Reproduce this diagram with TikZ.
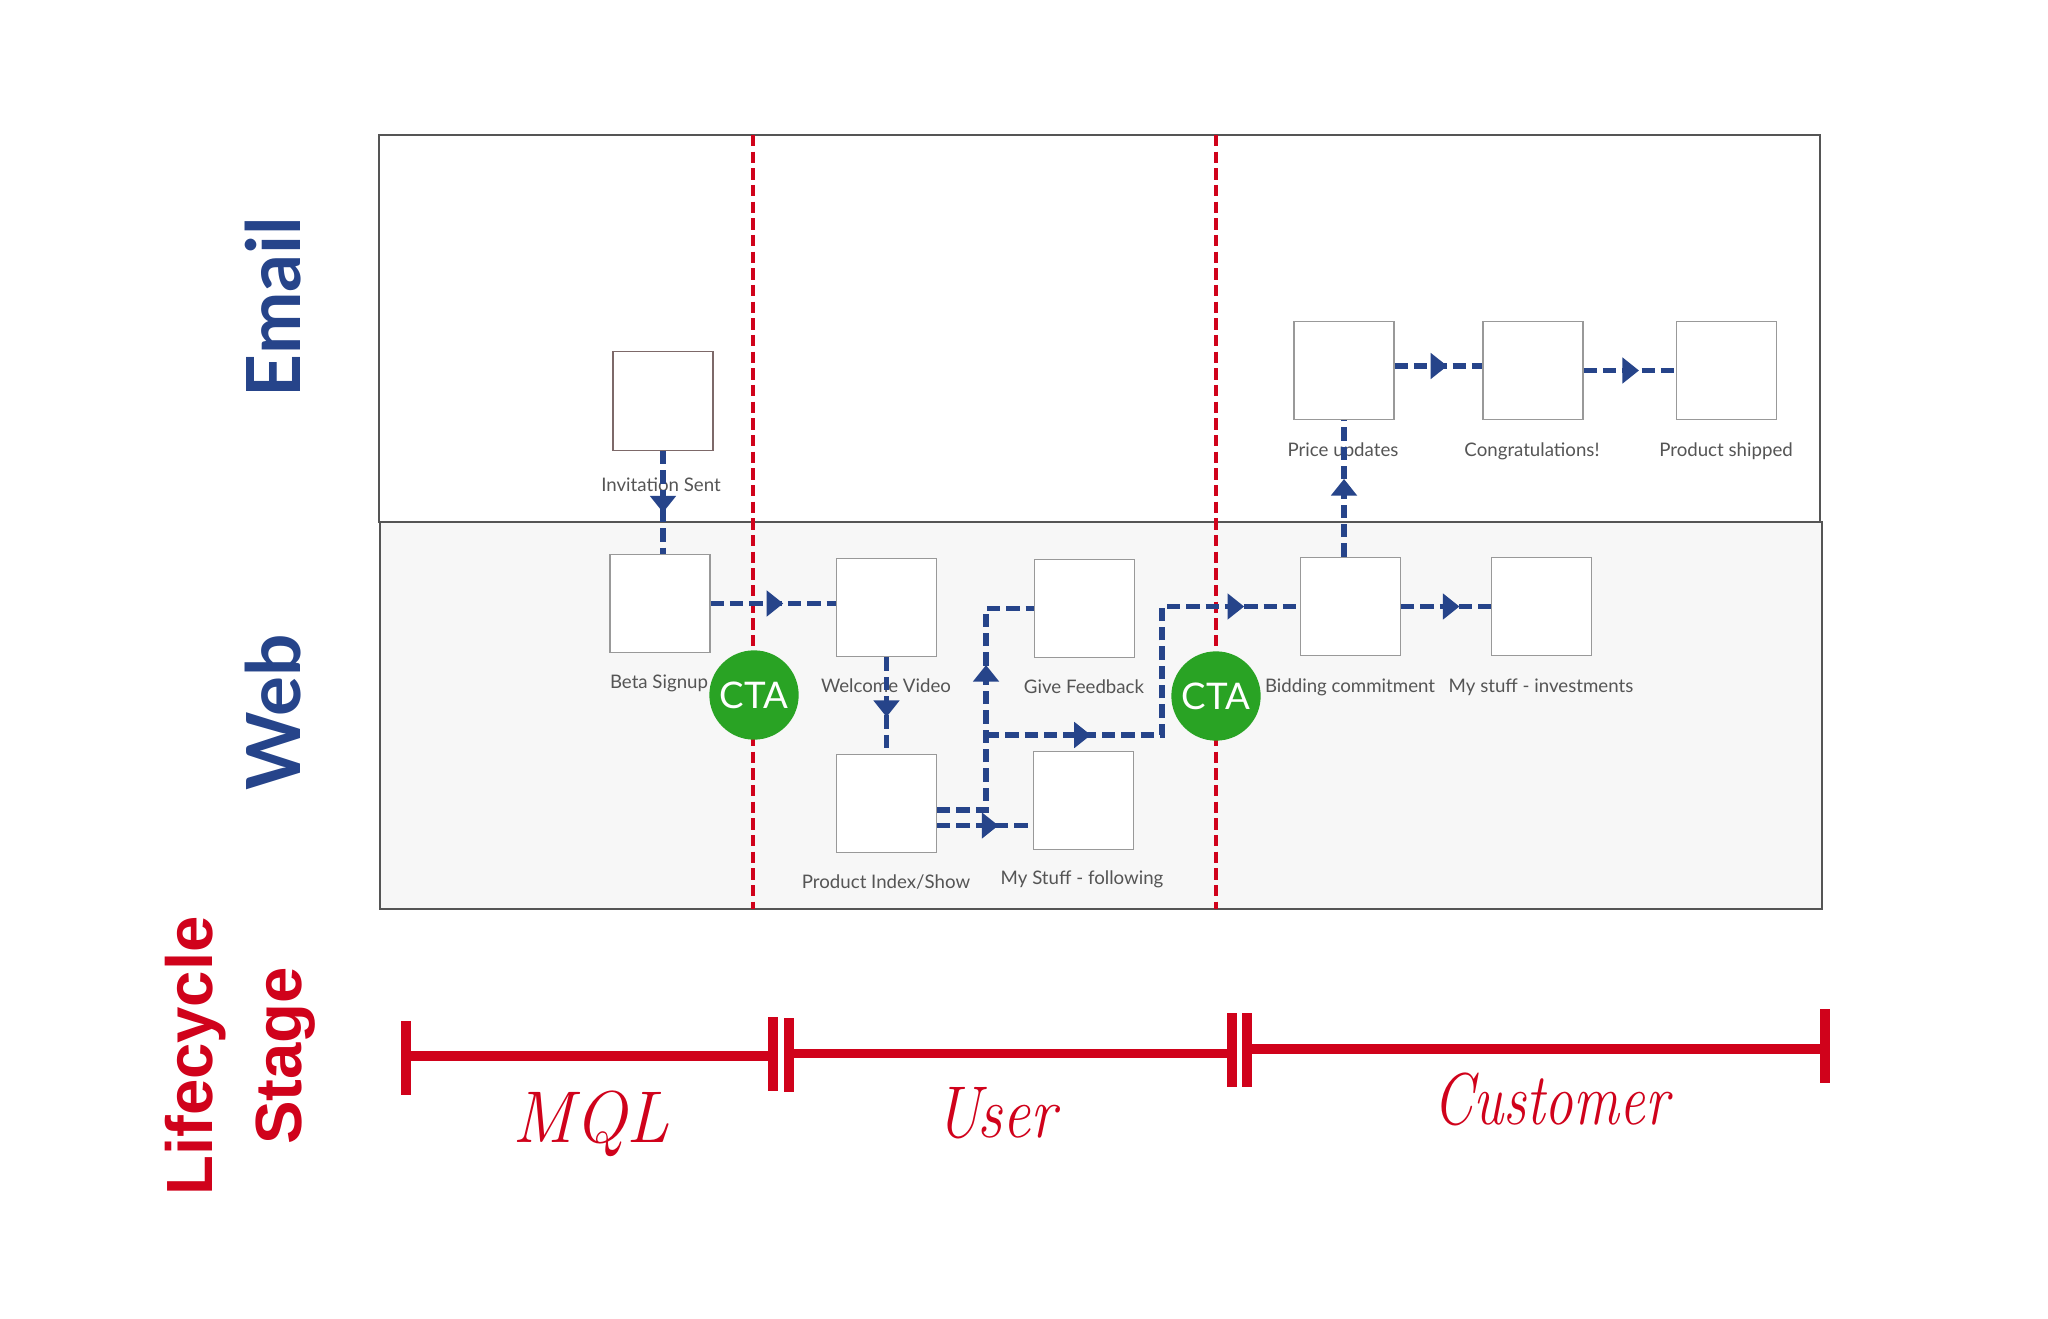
\documentclass[tikz,border=0pt]{standalone}
\usepackage{fontspec}
\usepackage{xcolor}
\usepackage{tikz}
\usetikzlibrary{arrows.meta,decorations.markings,calc}
\newfontfamily\lanefont{Lato}
\newfontfamily\screenfont{Lato}
\newfontfamily\stagefont{Liberation Sans}
\definecolor{flowblue}{RGB}{38,68,138}
\definecolor{stagered}{RGB}{208,2,27}
\definecolor{ctagreen}{RGB}{41,163,36}
\definecolor{screengray}{RGB}{153,153,153}
\definecolor{invborder}{RGB}{125,105,105}
\definecolor{lanegray}{RGB}{85,85,85}
\definecolor{webfill}{RGB}{247,247,247}
\definecolor{labelgray}{RGB}{85,85,85}
\tikzset{
  lane/.style={draw=lanegray, line width=2pt},
  stageline/.style={draw=stagered, line width=3pt, dash pattern=on 8.5pt off 4pt},
  screen/.style={draw=screengray, line width=0.9pt, fill=white, minimum width=75pt, minimum height=74pt, inner sep=0pt},
  screenlabel/.style={font=\screenfont\fontsize{14}{17}\selectfont, text=labelgray, inner sep=0pt, anchor=base},
  flow/.style={draw=flowblue, line width=3.9pt, dash pattern=on 10pt off 4.5pt},
  midtip/.style={postaction={decorate, decoration={markings, mark=at position #1 with {\arrow[flowblue]{Triangle[length=12.5pt,width=19pt]}}}}},
  cta/.style={circle, fill=ctagreen, minimum size=67pt, inner sep=0pt, text=white, font=\screenfont\fontsize{27.5}{30}\selectfont},
  lanetitle/.style={font=\lanefont\bfseries\fontsize{56}{60}\selectfont, text=flowblue, inner sep=0pt, rotate=90, anchor=base},
  stagetitle/.style={font=\stagefont\bfseries\fontsize{49}{67}\selectfont, text=stagered, inner sep=0pt, rotate=90, align=center},
  stagename/.style={font=\fontsize{55}{60}\selectfont\itshape, text=stagered, inner sep=0pt, anchor=base},
  stagebar/.style={draw=stagered, line width=7pt}
}
\begin{document}
\begin{tikzpicture}[x=0.75pt,y=0.75pt,yscale=-1,xscale=1]
\useasboundingbox (0,0) rectangle (2048,1319);
\fill[white] (0,0) rectangle (2048,1319);

\draw[lane] (379,135) rectangle (1820,522);
\draw[lane, fill=webfill] (380,522) rectangle (1822,909);
\draw[stageline] (753,135) -- (753,909);
\draw[stageline] (1216,135) -- (1216,909);

\node[lanetitle] (emailtitle) at (300,307) {Email};
\node[lanetitle] (webtitle) at (300,712) {Web};
\node[stagetitle] (lifecycletitle) at (240,1056) {Lifecycle\\Stage};

\node[screen, draw=invborder] (inv) at (663,401) {};
\node[screen] (beta) at (660,603.5) {};
\node[screen] (welcome) at (886.5,607.5) {};
\node[screen] (feedback) at (1084.5,608.5) {};
\node[screen] (prodidx) at (886.5,803.5) {};
\node[screen] (following) at (1083.5,800.5) {};
\node[screen] (price) at (1344,370.5) {};
\node[screen] (congrats) at (1533,370.5) {};
\node[screen] (shipped) at (1726.5,370.5) {};
\node[screen] (bidding) at (1350.5,606.5) {};
\node[screen] (invest) at (1541.5,606.5) {};

\node[screenlabel] (invlabel) at (661,491) {Invitation Sent};
\node[screenlabel] (betalabel) at (659,688) {Beta Signup};
\node[screenlabel] (welcomelabel) at (886,692) {Welcome Video};
\node[screenlabel] (feedbacklabel) at (1084,693) {Give Feedback};
\node[screenlabel] (prodidxlabel) at (886,888) {Product Index/Show};
\node[screenlabel] (followinglabel) at (1082,884) {My Stuff - following};
\node[screenlabel] (pricelabel) at (1343,456) {Price updates};
\node[screenlabel] (congratslabel) at (1532,456) {Congratulations!};
\node[screenlabel] (shippedlabel) at (1726,456) {Product shipped};
\node[screenlabel] (biddinglabel) at (1350,692) {Bidding commitment};
\node[screenlabel] (investlabel) at (1541,692) {My stuff - investments};

\coordinate (split) at (986,735);
\coordinate (hop) at (1162,735);

\draw[flow, midtip=0.6] (inv.south) -- (inv.south |- beta.north);
\draw[flow, midtip=0.58] (beta.east) -- (beta.east -| welcome.west);
\draw[flow, midtip=0.62] (welcome.south) -- (prodidx.north);
\draw[flow, midtip=0.65] ($(prodidx.east)+(0,6.5)$) -| (split) |- (feedback.west);
\draw[flow, midtip=0.64] ($(prodidx.east)+(0,22)$) -- ($(following.west)+(0,25)$);
\draw[flow, midtip=0.237, midtip=0.874] (split) -- (hop) |- (bidding.west);
\draw[flow, midtip=0.57] (bidding.north -| price.south) -- (price.south);
\draw[flow, midtip=0.65] (bidding.east) -- (invest.west);
\draw[flow, midtip=0.6] ($(price.east)+(0,-4.5)$) -- ($(congrats.west)+(0,-4.5)$);
\draw[flow, midtip=0.6] (congrats.east) -- (shipped.west);

\node[cta] (cta1) at (754,695) {CTA};
\node[cta] (cta2) at (1216,696) {CTA};

\draw[stagebar] (406,1056) -- (773,1056);
\draw[stagebar] (406,1021) -- (406,1095);
\draw[stagebar] (773,1017) -- (773,1091);
\draw[stagebar] (789,1053.5) -- (1232,1053.5);
\draw[stagebar] (789,1018) -- (789,1092);
\draw[stagebar] (1232,1013) -- (1232,1087);
\draw[stagebar] (1247,1049) -- (1825,1049);
\draw[stagebar] (1247,1013) -- (1247,1087);
\draw[stagebar] (1825,1009) -- (1825,1083);

\node[stagename, xscale=0.95] (mql) at (591,1142) {MQL};
\node[stagename, xscale=0.85] (user) at (996,1137) {User};
\node[stagename, xscale=0.78] (customer) at (1551,1124) {Customer};
\end{tikzpicture}
\end{document}
